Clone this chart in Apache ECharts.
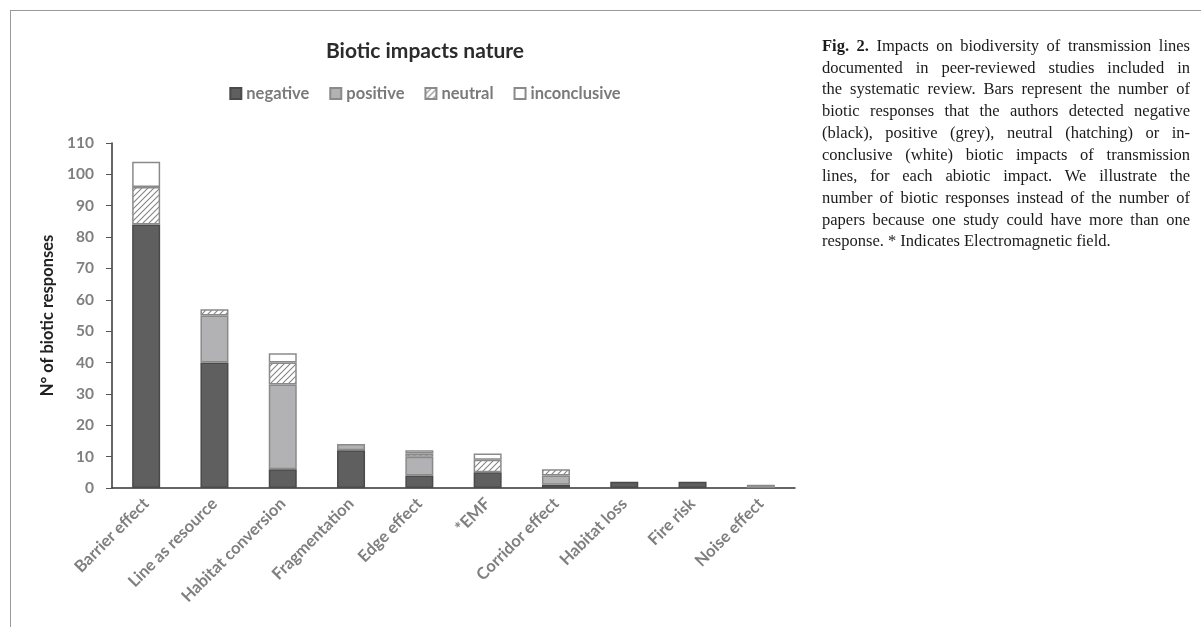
<!DOCTYPE html>
<html>
<head>
<meta charset="utf-8">
<script src="https://cdn.jsdelivr.net/npm/echarts@6/dist/echarts.min.js"></script>
<style>
  html, body { margin: 0; padding: 0; background: #fff; }
  .page { position: relative; width: 1201px; height: 627px; overflow: hidden; }
  .frame { position: absolute; left: 10px; top: 10px; width: 1200px; height: 640px;
           border-left: 1.5px solid #9a9a9a; border-top: 1.5px solid #9a9a9a; }
  .bar-main { position: absolute; left: 0; top: 0; width: 850px; height: 627px; }
  .caption { position: absolute; left: 822px; top: 35px; width: 368px;
             font-family: 'Liberation Serif', serif; font-size: 16.5px; line-height: 21.7px; color: #1a1a1a; }
  .caption div { text-align: justify; text-align-last: justify; white-space: nowrap; }
  .caption div.last { text-align-last: left; }
</style>
</head>
<body>
<div class="page">
  <div class="frame"></div>
  <div class="bar-main" id="box"></div>
  <div class="caption">
    <div><b>Fig. 2.</b> Impacts on biodiversity of transmission lines</div>
    <div>documented in peer-reviewed studies included in</div>
    <div>the systematic review. Bars represent the number of</div>
    <div>biotic responses that the authors detected negative</div>
    <div>(black), positive (grey), neutral (hatching) or in-</div>
    <div>conclusive (white) biotic impacts of transmission</div>
    <div>lines, for each abiotic impact. We illustrate the</div>
    <div>number of biotic responses instead of the number of</div>
    <div>papers because one study could have more than one</div>
    <div class="last">response. * Indicates Electromagnetic field.</div>
  </div>
</div>
<script>
const categories = ['Barrier effect', 'Line as resource', 'Habitat conversion', 'Fragmentation',
  'Edge effect', '*EMF', 'Corridor effect', 'Habitat loss', 'Fire risk', 'Noise effect'];
const negative = [84, 40, 6, 12, 4, 5, 1, 2, 2, 0];
const positive = [0, 15, 27, 2, 6, 0, 3, 0, 0, 1];
const neutral = [12, 2, 7, 0, 1, 4, 2, 0, 0, 0];
const inconclusive = [8, 0, 3, 0, 1, 2, 0, 0, 0, 0];
const yTicks = { min: 0, max: 110, interval: 10 };

// hatching for the neutral series
function hatch () {
  const c = document.createElement('canvas');
  c.width = 6; c.height = 6;
  const ctx = c.getContext('2d');
  ctx.fillStyle = '#fff';
  ctx.fillRect(0, 0, 6, 6);
  ctx.strokeStyle = '#858585';
  ctx.lineWidth = 1.1;
  ctx.beginPath();
  ctx.moveTo(-1, 7); ctx.lineTo(7, -1);
  ctx.moveTo(-1, 1); ctx.lineTo(1, -1);
  ctx.moveTo(5, 7); ctx.lineTo(7, 5);
  ctx.stroke();
  return { image: c, repeat: 'repeat' };
}

const font = 'Lato, "Open Sans", sans-serif';
const mkSeries = (name, data, color, border) => ({
  name: name,
  type: 'bar',
  stack: 'total',
  barWidth: 28,
  data: data.map(v => (v === 0 ? null : v)),
  itemStyle: { color: color, borderColor: border, borderWidth: 1.5 }
});

const chart = echarts.init(document.getElementById('box'));
chart.setOption({
  animation: false,
  textStyle: { fontFamily: font },
  title: {
    text: 'Biotic impacts nature',
    left: 'center',
    top: 36,
    textStyle: { fontFamily: font, fontSize: 21, fontWeight: 'bold', color: '#2b2b2b' }
  },
  legend: {
    top: 80,
    left: 'center',
    itemWidth: 11,
    itemHeight: 11,
    itemGap: 20,
    icon: 'rect',
    textStyle: { fontFamily: font, fontSize: 16.5, fontWeight: 'bold', color: '#7a7a7a' },
    data: ['negative', 'positive', 'neutral', 'inconclusive']
  },
  grid: { left: 112, right: 55, top: 143, bottom: 139 },
  xAxis: {
    type: 'category',
    data: categories,
    axisLine: { lineStyle: { color: '#333', width: 1.5 } },
    axisTick: { show: false },
    axisLabel: {
      rotate: 45,
      interval: 0,
      margin: 13,
      fontFamily: font,
      fontSize: 16.5,
      fontWeight: 'bold',
      color: '#7f7f7f'
    }
  },
  yAxis: {
    type: 'value',
    min: yTicks.min,
    max: yTicks.max,
    interval: yTicks.interval,
    name: 'N° of biotic responses',
    nameLocation: 'middle',
    nameGap: 56,
    nameTextStyle: { fontFamily: font, fontSize: 16.5, fontWeight: 'bold', color: '#222' },
    splitLine: { show: false },
    axisLine: { show: true, lineStyle: { color: '#333', width: 1.5 } },
    axisTick: { show: true, length: 6, lineStyle: { color: '#555' } },
    axisLabel: { fontFamily: font, fontSize: 15.5, fontWeight: 'bold', color: '#7f7f7f', margin: 18 }
  },
  series: [
    mkSeries('negative', negative, '#5f5f5f', '#4a4a4a'),
    mkSeries('positive', positive, '#b2b2b4', '#8a8a8a'),
    mkSeries('neutral', neutral, hatch(), '#8a8a8a'),
    mkSeries('inconclusive', inconclusive, '#ffffff', '#8a8a8a')
  ]
});
</script>
</body>
</html>
